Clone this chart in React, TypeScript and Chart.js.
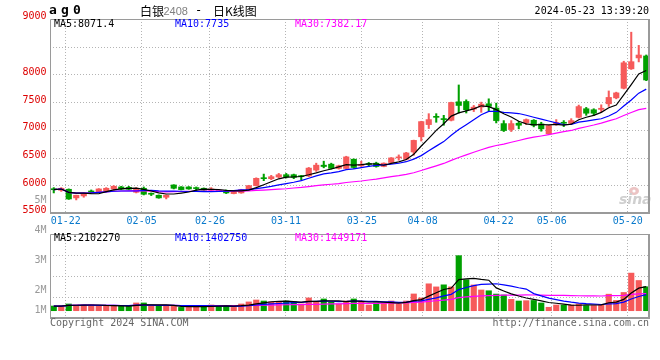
import React, { useEffect, useRef } from 'react';
import { Chart, registerables } from 'chart.js';

Chart.register(...registerables);

// ---------------- data ----------------
const dates = [
  '01-18', '01-19', '01-22', '01-23', '01-24', '01-25', '01-26', '01-29', '01-30', '01-31',
  '02-01', '02-02', '02-05', '02-06', '02-07', '02-08', '02-19', '02-20', '02-21', '02-22',
  '02-23', '02-26', '02-27', '02-28', '02-29', '03-01', '03-04', '03-05', '03-06', '03-07',
  '03-08', '03-11', '03-12', '03-13', '03-14', '03-15', '03-18', '03-19', '03-20', '03-21',
  '03-22', '03-25', '03-26', '03-27', '03-28', '03-29', '04-01', '04-02', '04-03', '04-08',
  '04-09', '04-10', '04-11', '04-12', '04-15', '04-16', '04-17', '04-18', '04-19', '04-22',
  '04-23', '04-24', '04-25', '04-26', '04-29', '04-30', '05-06', '05-07', '05-08', '05-09',
  '05-10', '05-13', '05-14', '05-15', '05-16', '05-17', '05-20', '05-21', '05-22', '05-23',
];

const openP = [
  5925, 5910, 5928, 5772, 5808, 5898, 5874, 5898, 5934, 5970,
  5964, 5874, 5946, 5843, 5820, 5784, 6006, 5970, 5970, 5943,
  5946, 5910, 5895, 5898, 5850, 5862, 5922, 5994, 6122, 6119,
  6149, 6191, 6191, 6161, 6167, 6274, 6363, 6381, 6304, 6304,
  6470, 6351, 6378, 6399, 6339, 6411, 6494, 6470, 6601, 6875,
  7095, 7232, 7190, 7173, 7506, 7512, 7375, 7411, 7470, 7393,
  7113, 7006, 7119, 7131, 7173, 7107, 6929, 7107, 7125, 7119,
  7226, 7381, 7363, 7369, 7470, 7577, 7750, 8101, 8298, 8333,
];
const highP = [
  5958, 5958, 5935, 5822, 5860, 5916, 5940, 5958, 5994, 5982,
  5982, 5958, 5970, 5862, 5826, 5826, 6010, 5976, 5976, 5970,
  5952, 5958, 5910, 5916, 5890, 5928, 6000, 6135, 6202, 6179,
  6214, 6214, 6202, 6179, 6322, 6399, 6435, 6399, 6363, 6524,
  6476, 6435, 6411, 6417, 6405, 6500, 6548, 6595, 6815, 7155,
  7292, 7292, 7262, 7500, 7810, 7542, 7440, 7500, 7560, 7482,
  7167, 7167, 7155, 7197, 7185, 7137, 7083, 7185, 7167, 7202,
  7447, 7405, 7381, 7452, 7702, 7680, 8238, 8762, 8524, 8351,
];
const lowP = [
  5862, 5890, 5745, 5736, 5784, 5862, 5868, 5880, 5910, 5922,
  5916, 5862, 5826, 5814, 5766, 5754, 5934, 5916, 5928, 5898,
  5904, 5898, 5885, 5850, 5845, 5856, 5916, 5988, 6083, 6101,
  6131, 6131, 6119, 6095, 6155, 6250, 6315, 6292, 6292, 6292,
  6304, 6339, 6339, 6327, 6333, 6399, 6452, 6458, 6542, 6798,
  7024, 7137, 7083, 7161, 7304, 7304, 7330, 7316, 7345, 7125,
  6970, 6970, 7018, 7095, 7054, 6976, 6917, 7083, 7059, 7095,
  7214, 7262, 7256, 7321, 7423, 7560, 7738, 8090, 8226, 7887,
];
const closeP = [
  5920, 5946, 5753, 5820, 5856, 5874, 5934, 5946, 5982, 5934,
  5928, 5946, 5838, 5838, 5772, 5820, 5946, 5922, 5934, 5940,
  5910, 5934, 5900, 5862, 5886, 5922, 5994, 6126, 6119, 6155,
  6191, 6149, 6143, 6155, 6310, 6363, 6339, 6304, 6351, 6512,
  6321, 6375, 6375, 6339, 6399, 6494, 6506, 6583, 6810, 7149,
  7185, 7226, 7185, 7494, 7440, 7363, 7410, 7464, 7423, 7167,
  6988, 7113, 7083, 7185, 7083, 7018, 7077, 7131, 7119, 7167,
  7420, 7300, 7300, 7390, 7585, 7667, 8210, 8230, 8350, 7900,
];
const volume = [
  410000, 410000, 590000, 500000, 500000, 500000, 410000, 410000, 410000, 410000,
  410000, 680000, 680000, 410000, 410000, 410000, 410000, 290000, 290000, 410000,
  410000, 500000, 410000, 410000, 290000, 590000, 770000, 940000, 850000, 770000,
  770000, 850000, 770000, 590000, 1120000, 770000, 1030000, 770000, 590000, 850000,
  1030000, 850000, 500000, 680000, 680000, 850000, 590000, 850000, 1470000, 1120000,
  2360000, 2090000, 2270000, 2090000, 4830000, 2720000, 2260000, 1820000, 1750000, 1460000,
  1380000, 1000000, 850000, 880000, 900000, 680000, 300000, 500000, 500000, 500000,
  600000, 450000, 450000, 550000, 1450000, 900000, 1600000, 3300000, 2650000, 2100000,
];

const priceGridTicks = [9000, 8500, 8000, 7500, 7000, 6500, 6000, 5500];
const priceLabelTicks = [9000, 8000, 7500, 7000, 6500, 6000, 5500];
const dateTicks = ['01-22', '02-05', '02-26', '03-11', '03-25', '04-08', '04-22', '05-06', '05-20'];
const volTickLabels = ['4M', '3M', '2M', '1M'];
const priceLegend = ['MA5:8071.4', 'MA10:7735', 'MA30:7382.17'];
const volLegend = ['MA5:2102270', 'MA10:1402750', 'MA30:1449171'];
const maPeriods = [5, 10, 30];

// ---------------- styles ----------------
const RED = '#f65a5a';
const GREEN = '#00a000';
const MA_COLORS = ['#000000', '#0000ff', '#ff00ff'];
const GRID = '#b4b4b4';
const FRAME = '#9a9a9a';
const MONO = "'DejaVu Sans Mono', monospace";
const CJK = "'Noto Sans CJK SC', sans-serif";
const PRICE_MIN = 5500;
const PRICE_MAX = 9000;
const VOL_MIN = -640000;
const VOL_MAX = 6730000;
const LEGEND_X = [4, 125, 245];
const VOL_LABEL_OFFSETS = [-3.3, 26.7, 56.7, 76.7];

function movingAverage(src: number[], n: number): number[] {
  return src.map((_, i) => {
    const s = Math.max(0, i - n + 1);
    let sum = 0;
    for (let k = s; k <= i; k++) sum += src[k];
    return sum / (i - s + 1);
  });
}

function text(ctx: CanvasRenderingContext2D, s: string, x: number, y: number, color: string, font: string, align: CanvasTextAlign = 'left') {
  ctx.fillStyle = color;
  ctx.font = font;
  ctx.textAlign = align;
  ctx.textBaseline = 'middle';
  ctx.fillText(s, x, y);
}

function drawFrame(ctx: CanvasRenderingContext2D, a: any) {
  ctx.save();
  ctx.setLineDash([]);
  ctx.strokeStyle = FRAME;
  ctx.lineWidth = 1;
  ctx.beginPath();
  ctx.moveTo(a.left + 0.5, a.bottom);
  ctx.lineTo(a.left + 0.5, a.top + 0.5);
  ctx.lineTo(a.right, a.top + 0.5);
  ctx.stroke();
  ctx.lineWidth = 2;
  ctx.beginPath();
  ctx.moveTo(a.right - 1, a.top);
  ctx.lineTo(a.right - 1, a.bottom);
  ctx.lineTo(a.left, a.bottom);
  ctx.stroke();
  ctx.restore();
}

function drawVerticalGrid(ctx: CanvasRenderingContext2D, chart: any) {
  const a = chart.chartArea;
  const xg = chart.scales.xg;
  dateTicks.forEach((d) => {
    const px = Math.round(xg.getPixelForValue(dates.indexOf(d))) + 0.5;
    ctx.moveTo(px, a.top);
    ctx.lineTo(px, a.bottom);
  });
}

const pricePlugin = {
  id: 'priceDeco',
  beforeDatasetsDraw(chart: any) {
    const { ctx, chartArea: a, scales } = chart;
    ctx.save();
    ctx.strokeStyle = GRID;
    ctx.lineWidth = 1;
    ctx.setLineDash([1, 2]);
    ctx.beginPath();
    priceGridTicks.forEach((v) => {
      if (v >= PRICE_MAX || v <= PRICE_MIN) return;
      const py = Math.round(scales.y.getPixelForValue(v)) + 0.5;
      ctx.moveTo(a.left, py);
      ctx.lineTo(a.right, py);
    });
    drawVerticalGrid(ctx, chart);
    ctx.stroke();
    ctx.setLineDash([]);
    // sina watermark
    ctx.fillStyle = '#ecc4c4';
    ctx.beginPath();
    ctx.ellipse(a.right - 16, a.bottom - 22, 5, 4, 0, 0, Math.PI * 2);
    ctx.fill();
    ctx.fillStyle = '#ffffff';
    ctx.beginPath();
    ctx.arc(a.right - 16, a.bottom - 22, 1.6, 0, Math.PI * 2);
    ctx.fill();
    text(ctx, 'sina', a.right - 31, a.bottom - 13, '#cfcfcf', "italic bold 14px 'DejaVu Sans', sans-serif");
    ctx.restore();
  },
  afterDraw(chart: any) {
    const { ctx, chartArea: a, scales } = chart;
    ctx.save();
    drawFrame(ctx, a);
    // title
    const tf = `bold 13px ${MONO}`;
    text(ctx, 'a', 49, 11, '#000', tf);
    text(ctx, 'g', 61, 11, '#000', tf);
    text(ctx, '0', 73, 11, '#000', tf);
    text(ctx, '白银', 140, 11, '#000', `12px ${CJK}`);
    text(ctx, '2408', 163.5, 11.5, '#808080', "11px 'Liberation Sans', sans-serif");
    text(ctx, '-', 195, 11, '#000', `12px ${MONO}`);
    text(ctx, '日K线图', 213, 11, '#000', `12px ${CJK}`);
    text(ctx, '2024-05-23 13:39:20', 649, 11.5, '#000', `10px ${MONO}`, 'right');
    // legend
    priceLegend.forEach((s, i) => text(ctx, s, a.left + LEGEND_X[i], 24, MA_COLORS[i], `10px ${MONO}`));
    // price labels
    priceLabelTicks.forEach((v) => {
      text(ctx, String(v), 46.5, scales.y.getPixelForValue(v) - 2.2, '#dd0000', `10px ${MONO}`, 'right');
    });
    text(ctx, '5M', 46.5, 200.5, '#999999', `10px ${MONO}`, 'right');
    // date labels
    dateTicks.forEach((d) => {
      const px = scales.xg.getPixelForValue(dates.indexOf(d));
      text(ctx, d, px + 0.5, 221.7, '#0a7acc', `10px ${MONO}`, 'center');
    });
    ctx.restore();
  },
};

const volPlugin = {
  id: 'volDeco',
  beforeDatasetsDraw(chart: any) {
    const { ctx, chartArea: a } = chart;
    ctx.save();
    ctx.strokeStyle = GRID;
    ctx.lineWidth = 1;
    ctx.setLineDash([1, 2]);
    ctx.beginPath();
    for (let k = 1; k <= 3; k++) {
      const py = Math.round(a.top + ((a.bottom - a.top) * k) / 4) + 0.5;
      ctx.moveTo(a.left, py);
      ctx.lineTo(a.right, py);
    }
    drawVerticalGrid(ctx, chart);
    ctx.stroke();
    ctx.restore();
  },
  afterDraw(chart: any) {
    const { ctx, chartArea: a } = chart;
    ctx.save();
    drawFrame(ctx, a);
    volLegend.forEach((s, i) => text(ctx, s, a.left + LEGEND_X[i], 238.7, MA_COLORS[i], `10px ${MONO}`));
    volTickLabels.forEach((s, i) => text(ctx, s, 46.5, a.top + VOL_LABEL_OFFSETS[i], '#999999', `10px ${MONO}`, 'right'));
    text(ctx, 'Copyright 2024 SINA.COM', 50, 323.5, '#666666', `10px ${MONO}`);
    text(ctx, 'http://finance.sina.com.cn', 649, 323.5, '#666666', `10px ${MONO}`, 'right');
    ctx.restore();
  },
};

function maDatasets(src: number[]) {
  return maPeriods.map((p, i) => ({
    type: 'line' as const,
    label: `MA${p}`,
    data: movingAverage(src, p),
    borderColor: MA_COLORS[i],
    borderWidth: 1.2,
    pointRadius: 0,
    tension: 0,
    fill: false,
    order: i + 1,
  }));
}

export default function App() {
  const priceRef = useRef<HTMLCanvasElement>(null);
  const volRef = useRef<HTMLCanvasElement>(null);

  useEffect(() => {
    const candleColors = closeP.map((c, i) => (c >= openP[i] ? RED : GREEN));
    const volColors = closeP.map((c, i) => {
      const ref = i === 0 ? openP[0] : closeP[i - 1];
      return c >= ref ? RED : GREEN;
    });
    const commonScalesX = {
      x: { type: 'category' as const, display: false, offset: true },
      xg: {
        type: 'linear' as const,
        axis: 'x' as const,
        display: false,
        offset: false,
        grid: { offset: false },
        bounds: 'ticks' as const,
        min: 0,
        max: dates.length - 1,
      },
    };

    const priceChart = new Chart(priceRef.current as HTMLCanvasElement, {
      type: 'bar',
      data: {
        labels: dates,
        datasets: [
          ...maDatasets(closeP),
          {
            type: 'bar',
            label: 'body',
            data: openP.map((o, i) => [o, closeP[i]]),
            backgroundColor: candleColors,
            barThickness: 5.5,
            grouped: false,
            minBarLength: 1,
            borderWidth: 0,
            order: 4,
          },
          {
            type: 'bar',
            label: 'wick',
            data: lowP.map((l, i) => [l, highP[i]]),
            backgroundColor: candleColors,
            barThickness: 1.4,
            grouped: false,
            borderWidth: 0,
            order: 5,
          },
        ] as any,
      },
      options: {
        responsive: false,
        animation: false,
        events: [],
        layout: { padding: { left: 50, right: 10, top: 19, bottom: 147 } },
        scales: {
          ...commonScalesX,
          y: { type: 'linear', display: false, min: PRICE_MIN, max: PRICE_MAX },
        } as any,
        plugins: { legend: { display: false }, tooltip: { enabled: false } },
      },
      plugins: [pricePlugin],
    });

    const volChart = new Chart(volRef.current as HTMLCanvasElement, {
      type: 'bar',
      data: {
        labels: dates,
        datasets: [
          ...maDatasets(volume),
          {
            type: 'bar',
            label: 'volume',
            data: volume,
            backgroundColor: volColors,
            barThickness: 5.5,
            grouped: false,
            borderWidth: 0,
            order: 4,
          },
        ] as any,
      },
      options: {
        responsive: false,
        animation: false,
        events: [],
        layout: { padding: { left: 50, right: 10, top: 234, bottom: 42 } },
        scales: {
          ...commonScalesX,
          y: { type: 'linear', display: false, min: VOL_MIN, max: VOL_MAX },
        } as any,
        plugins: { legend: { display: false }, tooltip: { enabled: false } },
      },
      plugins: [volPlugin],
    });

    return () => {
      priceChart.destroy();
      volChart.destroy();
    };
  }, []);

  const canvasStyle: React.CSSProperties = { position: 'absolute', left: 0, top: 0, width: 660, height: 360 };
  return (
    <div style={{ position: 'fixed', left: 0, top: 0, width: 660, height: 360, background: '#ffffff' }}>
      <canvas ref={priceRef} width={660} height={360} style={canvasStyle} />
      <canvas ref={volRef} width={660} height={360} style={canvasStyle} />
    </div>
  );
}
